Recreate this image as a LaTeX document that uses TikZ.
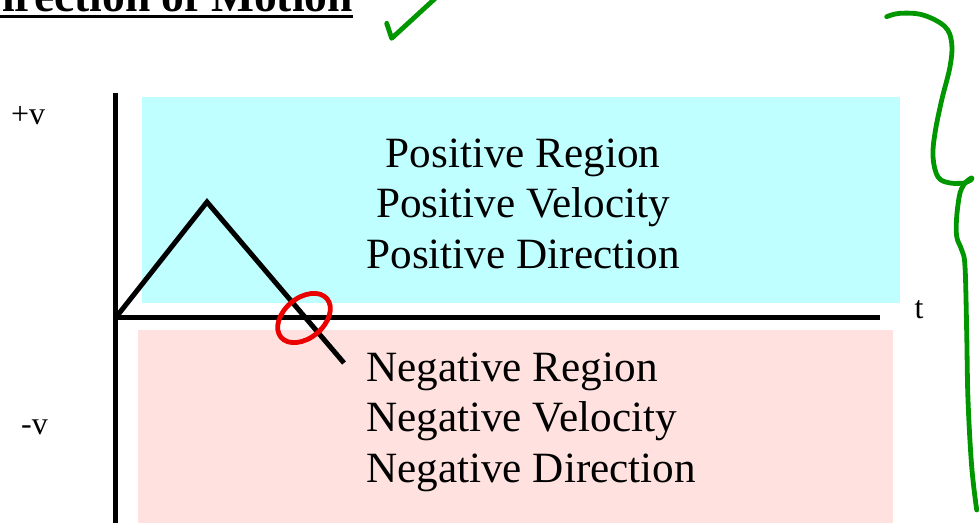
\documentclass[tikz,border=0pt]{standalone}
\usepackage{fontspec}
\setmainfont{Liberation Serif}
\definecolor{poscyan}{RGB}{192,255,255}
\definecolor{negpink}{RGB}{255,226,223}
\definecolor{pengreen}{RGB}{0,150,0}
\definecolor{penred}{RGB}{235,0,0}
\begin{document}
\begin{tikzpicture}[x=1pt,y=-1pt,
  axisline/.style={line width=5pt,black},
  bigtext/.style={font=\fontsize{43.2}{50}\selectfont,inner sep=0pt},
  axlabel/.style={font=\fontsize{32}{34}\selectfont,inner sep=0pt},
  greenpen/.style={line width=4.8pt,pengreen,line cap=round,line join=round},
  redpen/.style={line width=4.8pt,penred}]
\useasboundingbox (0,0) rectangle (979,522);
% regions
\fill[poscyan] (142,97) rectangle (900,303);
\fill[negpink] (138,330) rectangle (893,530);
% title
\node[font=\fontsize{45.5}{50}\selectfont\bfseries,inner sep=0pt,anchor=base east] (title) at (353,12) {Direction of Motion};
\draw[line width=3pt] (0,16.5) -- (title.base east |- 0,16.5);
% axes
\coordinate (vtop) at (115,93);
\coordinate (vbot) at (115,530);
\coordinate (origin) at (115,317);
\coordinate (tend) at (880,317);
\draw[axisline] (vtop) -- (vbot);
\draw[axisline] (113,317) -- (tend);
% velocity graph
\coordinate (peak) at (207,202);
\coordinate (gend) at (344,363);
\draw[line width=5pt,line join=miter] (117,316) -- (peak) -- (gend);
% labels
\node[axlabel,anchor=base west] (pv) at (11,124) {+v};
\node[axlabel,anchor=base west] (nv) at (21,434) {-v};
\node[axlabel,anchor=base] (t) at (919,318) {t};
% text blocks
\node[bigtext,anchor=base] (p1) at (523,167) {Positive Region};
\node[bigtext,anchor=base] (p2) at (523,217.5) {Positive Velocity};
\node[bigtext,anchor=base] (p3) at (523,268) {Positive Direction};
\node[bigtext,anchor=base west] (n1) at (366,381) {Negative Region};
\node[bigtext,anchor=base west] (n2) at (366,431.5) {Negative Velocity};
\node[bigtext,anchor=base west] (n3) at (366,482) {Negative Direction};
% red circle
\draw[redpen] (304,318) ellipse[x radius=30,y radius=20,rotate=40];
% green check
\draw[greenpen] (386.7,23.3) -- (391.7,38.3) -- (440,-6);
% green brace
\draw[greenpen] plot[smooth,tension=0.6] coordinates {
 (886.7,16.7) (900,13.3) (923,15) (945,26.7) (951.7,43.3) (950,66.7)
 (941.7,100) (935,133) (933,157) (938,177) (950,183) (965,183)};
\draw[greenpen] (965,183) .. controls (970,178) and (974,176) .. (971,180) -- (965,183);
\draw[greenpen] plot[smooth,tension=0.6] coordinates {
 (965,183) (960,193) (956.7,216.7) (956.7,236.7) (961.7,250) (965,266.7)
 (966.7,333) (968,400) (971.7,466.7) (976.7,510)};
\end{tikzpicture}
\end{document}
